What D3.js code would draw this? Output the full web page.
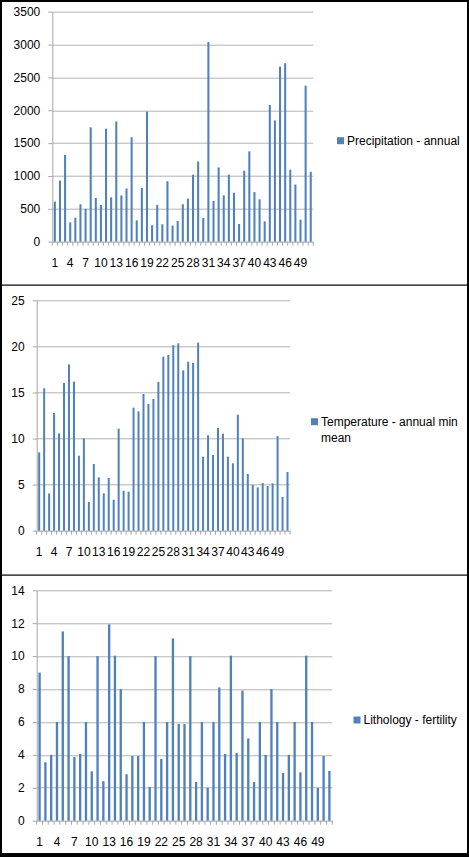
<!DOCTYPE html>
<html>
<head>
<meta charset="utf-8">
<script src="https://cdn.jsdelivr.net/npm/d3@7"></script>
<style>
    body { margin: 0; background: #fff; }
    svg { display: block; }
    text { font-family: "Liberation Sans", Arial, sans-serif; }
</style>
</head>
<body>
<svg id="chart"></svg>
<script>
const categories = d3.range(1, 52);
const xLabels = [1, 4, 7, 10, 13, 16, 19, 22, 25, 28, 31, 34, 37, 40, 43, 46, 49];

const precipitation = [610, 930, 1320, 295, 365, 570, 500, 1740, 665, 560,
    1720, 675, 1830, 705, 810, 1590, 325, 820, 1980, 250,
    560, 265, 920, 245, 315, 570, 655, 1020, 1220, 360,
    3040, 620, 1130, 705, 1020, 745, 270, 1080, 1375, 755,
    645, 310, 2080, 1845, 2665, 2715, 1095, 870, 335, 2375, 1065];
const precipTicks = [0, 500, 1000, 1500, 2000, 2500, 3000, 3500];

const temperature = [8.5, 15.45, 4.05, 12.77, 10.56, 16.03, 18.05, 16.17, 8.14, 10.02,
    3.11, 7.24, 5.79, 4.05, 5.72, 3.36, 11.07, 4.34, 4.23, 13.35,
    12.95, 14.83, 13.75, 14.29, 16.14, 18.89, 19.07, 20.12, 20.33, 17.4,
    18.34, 18.2, 20.41, 8.03, 10.35, 8.21, 11.14, 10.53, 8.03, 7.31,
    12.59, 10.02, 6.15, 4.99, 4.7, 5.17, 4.85, 5.14, 10.27, 3.65, 6.37];
const tempTicks = [0, 5, 10, 15, 20, 25];

const lithology = [9, 3.55, 4, 6, 11.5, 10, 3.87, 4.05, 6, 3,
    10, 2.4, 11.93, 10.03, 8, 2.82, 3.93, 3.93, 6, 2.05,
    10, 3.75, 6, 11.08, 5.88, 5.88, 10, 2.35, 6, 2,
    6, 8.1, 4.05, 10.03, 4.11, 7.9, 5, 2.35, 6, 4,
    8, 6, 2.9, 4, 6, 2.94, 10.03, 6, 2, 3.93, 3.02];
const lithTicks = [0, 2, 4, 6, 8, 10, 12, 14];

const width = 469, height = 857;
const barColor = "#4F81BD";

const svg = d3.select("#chart")
    .attr("width", width)
    .attr("height", height);

svg.append("rect")
    .attr("width", width)
    .attr("height", height)
    .attr("fill", "#fff");

function barPanel(opts) {
    const w = opts.x1 - opts.x0;
    const h = opts.yZero - opts.yTop;

    const g = svg.append("g")
        .attr("transform", `translate(${opts.x0},${opts.yTop})`);

    const xscale = d3.scaleBand()
        .domain(categories)
        .range([0, w])
        .paddingInner(0.6)
        .paddingOuter(0.3);

    const yscale = d3.scaleLinear()
        .domain([0, d3.max(opts.ticks)])
        .range([h, 0]);

    // gridlines
    g.selectAll(".grid")
        .data(opts.ticks.filter(t => t > 0))
        .enter().append("line")
        .attr("x1", 0)
        .attr("x2", w)
        .attr("y1", d => Math.round(yscale(d)) + 0.5)
        .attr("y2", d => Math.round(yscale(d)) + 0.5)
        .attr("stroke", "#b3b3b3")
        .attr("stroke-width", 1);

    const yAxis = g.append("g")
        .call(d3.axisLeft(yscale)
            .tickValues(opts.ticks)
            .tickFormat(d3.format("d"))
            .tickSize(4).tickSizeOuter(0).tickPadding(8));
    yAxis.selectAll("line").attr("stroke", "#a6a6a6");
    yAxis.select(".domain").attr("stroke", "#a6a6a6");
    yAxis.selectAll("text")
        .style("font-family", "'Liberation Sans', Arial, sans-serif")
        .style("font-size", "12px")
        .attr("fill", "#000");

    // category boundary ticks
    const step = xscale.step();
    const edges = categories.map(c => xscale(c) - (step - xscale.bandwidth()) / 2).concat([w]);
    g.selectAll(".ctick")
        .data(edges)
        .enter().append("line")
        .attr("x1", d => d)
        .attr("x2", d => d)
        .attr("y1", h)
        .attr("y2", h + 4)
        .attr("stroke", "#a6a6a6");

    const xAxis = g.append("g")
        .attr("transform", `translate(0,${h})`)
        .call(d3.axisBottom(xscale).tickValues(xLabels).tickSize(0).tickSizeOuter(0).tickPadding(16.5));
    xAxis.select(".domain").attr("stroke", "#a6a6a6");
    xAxis.selectAll("text")
        .style("font-family", "'Liberation Sans', Arial, sans-serif")
        .style("font-size", "12px")
        .attr("fill", "#000");

    g.selectAll(".bar")
        .data(opts.values)
        .enter().append("rect")
        .attr("class", "bar")
        .attr("x", (d, i) => xscale(categories[i]))
        .attr("y", d => yscale(d))
        .attr("width", xscale.bandwidth())
        .attr("height", d => h - yscale(d))
        .attr("fill", barColor);

    // legend
    const lg = svg.append("g");
    lg.append("rect")
        .attr("x", opts.legendX)
        .attr("y", opts.legendY - 3.5)
        .attr("width", 7)
        .attr("height", 7)
        .attr("fill", barColor);
    lg.selectAll("text")
        .data(opts.legend)
        .enter().append("text")
        .attr("x", opts.legendX + 10)
        .attr("y", (d, i) => opts.legendY + i * 16.5)
        .attr("dy", "0.35em")
        .style("font-size", "12px")
        .attr("fill", "#000")
        .text(d => d);
}

barPanel({
    values: precipitation, ticks: precipTicks,
    x0: 52.3, x1: 313.3, yTop: 11.7, yZero: 241.7,
    legendX: 337, legendY: 140.7, legend: ["Precipitation - annual"]
});

barPanel({
    values: temperature, ticks: tempTicks,
    x0: 36.7, x1: 290, yTop: 300.3, yZero: 530.7,
    legendX: 311, legendY: 421.7, legend: ["Temperature - annual min", "mean"]
});

barPanel({
    values: lithology, ticks: lithTicks,
    x0: 36.7, x1: 332.3, yTop: 590.3, yZero: 820.7,
    legendX: 353.5, legendY: 720, legend: ["Lithology - fertility"]
});

// frame and panel separators
const frame = [
    { x: 0, y: 0, w: width, h: 2 },
    { x: 0, y: 0, w: 2, h: height },
    { x: 467, y: 0, w: 2, h: height },
    { x: 0, y: 853, w: width, h: 4 },
    { x: 0, y: 284.5, w: width, h: 1.2 },
    { x: 0, y: 574.5, w: width, h: 1.2 }
];
svg.selectAll(".frame")
    .data(frame)
    .enter().append("rect")
    .attr("x", d => d.x)
    .attr("y", d => d.y)
    .attr("width", d => d.w)
    .attr("height", d => d.h)
    .attr("fill", "#000");
</script>
</body>
</html>
